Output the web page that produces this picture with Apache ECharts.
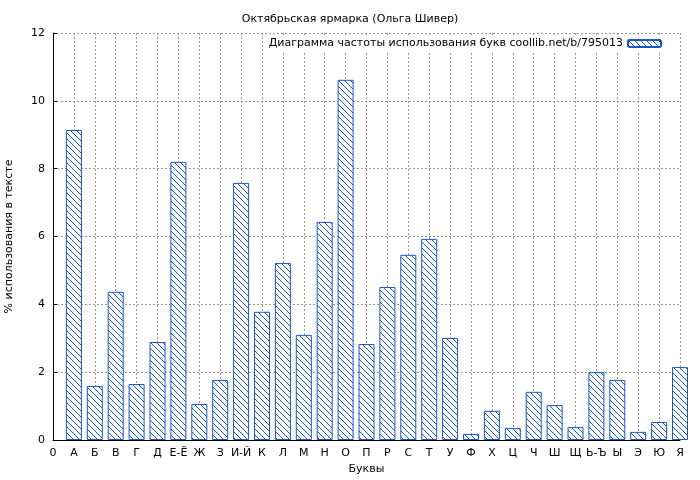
<!DOCTYPE html>
<html><head><meta charset="utf-8">
<script src="https://cdn.jsdelivr.net/npm/echarts@6/dist/echarts.min.js"></script>
<style>html,body{margin:0;padding:0;background:#fff}#c{width:700px;height:480px}</style>
</head><body><div id="c"></div>
<script>
// letters shown along the x axis ('0' marks the origin)
const letters = ['0','А','Б','В','Г','Д','Е-Ё','Ж','З','И-Й','К','Л','М','Н','О','П','Р','С','Т','У','Ф','Х','Ц','Ч','Ш','Щ','Ь-Ъ','Ы','Э','Ю','Я'];
// percent of use, per letter
const percents = [null,9.14,1.59,4.37,1.65,2.89,8.2,1.06,1.77,7.58,3.78,5.22,3.1,6.43,10.62,2.83,4.51,5.46,5.93,3.01,0.18,0.86,0.35,1.42,1.03,0.38,2.0,1.77,0.24,0.53,2.15];
const yTicks = [0,2,4,6,8,10,12];

const blue = '#1a56c8';
const makeHatch = () => {
  const cv = document.createElement('canvas');
  cv.width = 6; cv.height = 6;
  const g = cv.getContext('2d');
  g.fillStyle = '#fff'; g.fillRect(0,0,6,6);
  g.strokeStyle = blue; g.lineWidth = 1;
  g.beginPath();
  g.moveTo(0,0); g.lineTo(6,6);
  g.moveTo(-3,3); g.lineTo(3,9);
  g.moveTo(3,-3); g.lineTo(9,3);
  g.stroke();
  return cv;
};
const hatch = { image: makeHatch(), repeat: 'repeat' };
const font = 'DejaVu Sans';
const seriesName = 'Диаграмма частоты использования букв coollib.net/b/795013';

const chart = echarts.init(document.getElementById('c'), null, {renderer:'canvas'});
chart.setOption({
  animation: false,
  textStyle: { fontFamily: font },
  title: { text: 'Октябрьская ярмарка (Ольга Шивер)', left: 'center', top: 9,
    textStyle: { fontSize: 11, fontWeight: 'normal', color: '#000', fontFamily: font } },
  legend: { right: 34, top: 36, itemWidth: 33, itemHeight: 7, itemGap: 6,
    backgroundColor: '#fff', padding: [2,4,2,4], align: 'right',
    textStyle: { fontSize: 11, color: '#000', fontFamily: font },
    data: [seriesName] },
  grid: { left: 53, right: 20, top: 33, bottom: 40, outerBoundsMode: 'none', containLabel: false },
  xAxis: { type: 'value', min: 0, max: 30, interval: 1, name: 'Буквы',
    nameLocation: 'middle', nameGap: 22, nameTextStyle: { fontSize: 11, color: '#000' },
    axisLine: { lineStyle: { color: '#000' } }, axisTick: { inside: true, length: 4, lineStyle: { color: '#000' } },
    axisLabel: { fontSize: 11, color: '#000', margin: 8, showMinLabel: true, showMaxLabel: true,
      formatter: v => letters[Math.round(v)] },
    splitLine: { show: true, lineStyle: { color: '#999', type: [2,2] } } },
  yAxis: { type: 'value', min: 0, max: 12, interval: 2, name: '% использования в тексте',
    nameLocation: 'middle', nameGap: 38, nameTextStyle: { fontSize: 11, color: '#000' },
    axisLine: { show: true, lineStyle: { color: '#000' } }, axisTick: { inside: true, length: 4, lineStyle: { color: '#000' } },
    axisLabel: { fontSize: 11, color: '#000', formatter: v => yTicks.includes(v) ? String(v) : '' },
    splitLine: { show: true, lineStyle: { color: '#999', type: [2,2] } } },
  series: [{ name: seriesName, type: 'bar',
    data: percents.map((v, i) => [i, v]).filter(d => d[1] != null), barWidth: 16, clip: true,
    itemStyle: { color: hatch, borderColor: blue, borderWidth: 1 } }]
});
</script></body></html>
